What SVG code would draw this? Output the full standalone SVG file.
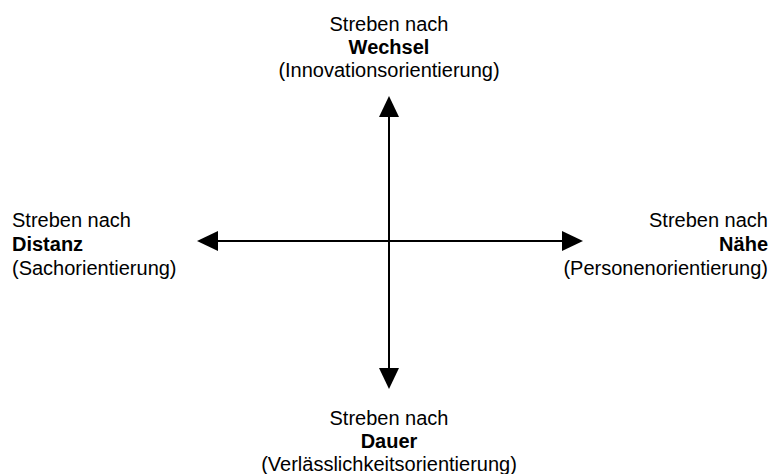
<svg xmlns="http://www.w3.org/2000/svg" width="778" height="474" viewBox="0 0 778 474">
<style>
text{font-family:"Liberation Sans",Arial,sans-serif;font-size:20px;fill:#000}
.b{font-weight:bold}
.ax{stroke:#000;stroke-width:2;fill:none}
.hd{fill:#000}
</style>
<rect width="778" height="474" fill="#fff"/>
<g id="connectors">
<line class="ax" x1="216" y1="241" x2="564" y2="241"/>
<polygon class="hd" points="197,241 218,231 218,251"/>
<polygon class="hd" points="583,241 562,231 562,251"/>
<line class="ax" x1="389" y1="115" x2="389" y2="370"/>
<polygon class="hd" points="389,96 379,117 399,117"/>
<polygon class="hd" points="389,389 379,368 399,368"/>
</g>
<g id="top" text-anchor="middle">
<text x="389" y="31">Streben nach</text>
<text class="b" x="389" y="54">Wechsel</text>
<text x="389" y="77">(Innovationsorientierung)</text>
</g>
<g id="left">
<text x="12" y="227">Streben nach</text>
<text class="b" x="12" y="251">Distanz</text>
<text x="12" y="275">(Sachorientierung)</text>
</g>
<g id="right" text-anchor="end">
<text x="768" y="227">Streben nach</text>
<text class="b" x="768" y="251">Nähe</text>
<text x="768" y="275">(Personenorientierung)</text>
</g>
<g id="bottom" text-anchor="middle">
<text x="389" y="425">Streben nach</text>
<text class="b" x="389" y="448">Dauer</text>
<text x="389" y="471">(Verlässlichkeitsorientierung)</text>
</g>
</svg>
